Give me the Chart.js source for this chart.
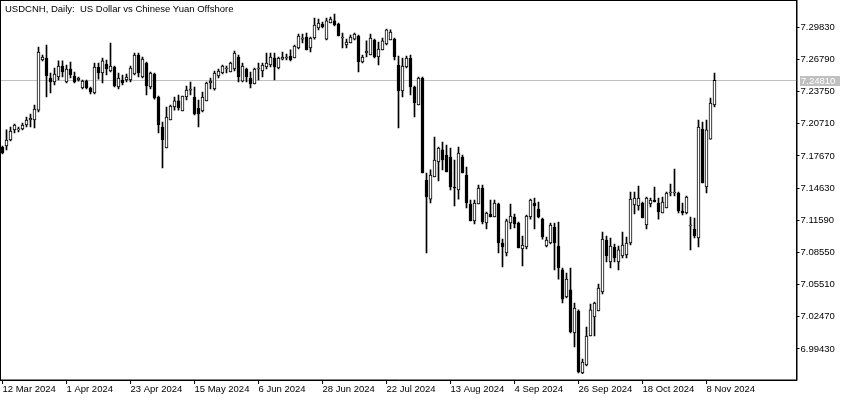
<!DOCTYPE html>
<html>
<head>
<meta charset="utf-8">
<script src="https://cdn.jsdelivr.net/npm/chart.js@4/dist/chart.umd.min.js"></script>
<style>
  html, body { margin: 0; padding: 0; background: #fff; }
  #wrap { width: 850px; height: 400px; }
</style>
</head>
<body>
<div id="wrap"><canvas id="chart" width="850" height="400"></canvas></div>
<script>
// USDCNH daily candles, 8 Mar 2024 .. 12 Nov 2024
const opens = [
  7.1852,7.1861,7.1918,7.2013,7.2013,7.2022,7.2060,7.2107,7.2107,7.2201,
  7.2674,7.2693,7.2504,7.2466,7.2513,7.2617,7.2466,7.2589,7.2523,7.2485,
  7.2409,7.2475,7.2409,7.2362,7.2608,7.2551,7.2636,7.2570,7.2608,7.2419,
  7.2485,7.2485,7.2485,7.2542,7.2721,7.2513,7.2646,7.2419,7.2542,7.2324,
  7.2041,7.1842,7.2107,7.2230,7.2287,7.2192,7.2324,7.2390,7.2324,7.2220,
  7.2192,7.2287,7.2457,7.2400,7.2523,7.2551,7.2589,7.2561,7.2589,7.2702,
  7.2475,7.2589,7.2504,7.2447,7.2589,7.2570,7.2608,7.2627,7.2693,7.2598,
  7.2683,7.2693,7.2712,7.2693,7.2787,7.2872,7.2891,7.2787,7.2882,7.2976,
  7.3014,7.2872,7.3024,7.3043,7.3014,7.2882,7.2816,7.2835,7.2872,7.2901,
  7.2655,7.2740,7.2721,7.2863,7.2702,7.2769,7.2825,7.2863,7.2872,7.2627,
  7.2381,7.2608,7.2693,7.2419,7.2249,7.2504,7.1540,7.1360,7.1568,7.1710,
  7.1824,7.1776,7.1757,7.1474,7.1446,7.1757,7.1587,7.1313,7.1153,7.1313,
  7.1464,7.1134,7.1219,7.1190,7.1313,7.0945,7.0850,7.1134,7.1190,7.1134,
  7.0888,7.0907,7.1190,7.1323,7.1266,7.1171,7.0916,7.0945,7.1096,7.0916,
  7.0690,7.0434,7.0501,7.0094,7.0302,6.9716,6.9792,7.0066,7.0245,7.0302,
  7.0482,7.0973,7.0765,7.0907,7.0765,7.0822,7.0831,7.0945,7.1304,7.1294,
  7.1323,7.1115,7.1313,7.1351,7.1323,7.1228,7.1275,7.1417,7.1417,7.1417,
  7.1247,7.1228,7.1105,7.1077,7.0992,7.2022,7.1474,7.1927,7.2249
];
const highs = [
  7.1861,7.2013,7.2041,7.2069,7.2041,7.2079,7.2135,7.2164,7.2249,7.2797,
  7.2721,7.2816,7.2551,7.2598,7.2665,7.2665,7.2627,7.2655,7.2561,7.2513,
  7.2485,7.2485,7.2419,7.2646,7.2646,7.2693,7.2674,7.2835,7.2617,7.2551,
  7.2532,7.2542,7.2617,7.2740,7.2740,7.2702,7.2655,7.2561,7.2551,7.2334,
  7.2088,7.2230,7.2249,7.2324,7.2343,7.2334,7.2428,7.2466,7.2419,7.2296,
  7.2372,7.2466,7.2504,7.2570,7.2589,7.2627,7.2617,7.2655,7.2759,7.2721,
  7.2646,7.2598,7.2561,7.2598,7.2646,7.2646,7.2740,7.2740,7.2740,7.2702,
  7.2750,7.2731,7.2769,7.2816,7.2920,7.2920,7.2929,7.2891,7.3071,7.3061,
  7.3033,7.3071,7.3080,7.3109,7.3024,7.2929,7.2872,7.2910,7.2929,7.2910,
  7.2721,7.2854,7.2920,7.2872,7.2844,7.2882,7.2967,7.2958,7.2882,7.2712,
  7.2693,7.2712,7.2721,7.2428,7.2513,7.2513,7.1606,7.1635,7.1946,7.1852,
  7.1899,7.1871,7.1842,7.1729,7.1852,7.1776,7.1663,7.1351,7.1351,7.1493,
  7.1493,7.1238,7.1351,7.1351,7.1323,7.0982,7.1171,7.1313,7.1219,7.1143,
  7.1011,7.1209,7.1360,7.1370,7.1332,7.1181,7.1001,7.1134,7.1134,7.1143,
  7.0708,7.0661,7.0708,7.0378,7.0312,6.9848,7.0151,7.0368,7.0387,7.0557,
  7.1049,7.1011,7.0992,7.0935,7.0916,7.1049,7.1001,7.1427,7.1427,7.1483,
  7.1332,7.1379,7.1370,7.1474,7.1370,7.1379,7.1427,7.1502,7.1644,7.1427,
  7.1323,7.1389,7.1190,7.1181,7.2107,7.2088,7.2107,7.2315,7.2551
];
const lows = [
  7.1786,7.1824,7.1909,7.1984,7.1994,7.2013,7.2041,7.2041,7.2031,7.2183,
  7.2665,7.2324,7.2362,7.2438,7.2485,7.2513,7.2457,7.2504,7.2457,7.2475,
  7.2400,7.2400,7.2353,7.2353,7.2494,7.2457,7.2532,7.2561,7.2419,7.2400,
  7.2438,7.2466,7.2466,7.2532,7.2513,7.2504,7.2343,7.2400,7.2305,7.1984,
  7.1653,7.1842,7.2107,7.2201,7.2201,7.2192,7.2296,7.2343,7.2154,7.2041,
  7.2183,7.2287,7.2400,7.2390,7.2504,7.2542,7.2551,7.2561,7.2570,7.2466,
  7.2466,7.2466,7.2409,7.2447,7.2485,7.2513,7.2589,7.2608,7.2485,7.2589,
  7.2674,7.2674,7.2665,7.2693,7.2778,7.2835,7.2769,7.2750,7.2872,7.2958,
  7.2976,7.2863,7.3024,7.2995,7.2901,7.2787,7.2787,7.2835,7.2863,7.2561,
  7.2646,7.2702,7.2721,7.2693,7.2627,7.2769,7.2816,7.2863,7.2674,7.2031,
  7.2324,7.2598,7.2343,7.2135,7.2249,7.1606,7.0850,7.1323,7.1568,7.1531,
  7.1635,7.1616,7.1446,7.1294,7.1360,7.1606,7.1275,7.1153,7.1124,7.1313,
  7.1124,7.1077,7.1190,7.1190,7.0850,7.0718,7.0822,7.1077,7.1086,7.0897,
  7.0727,7.0888,7.1171,7.1077,7.1181,7.0982,7.0907,7.0935,7.0690,7.0604,
  7.0378,7.0425,7.0094,6.9962,6.9716,6.9710,6.9782,7.0066,7.0066,7.0302,
  7.0463,7.0765,7.0708,7.0765,7.0690,7.0803,7.0803,7.0926,7.1219,7.1256,
  7.1181,7.1077,7.1285,7.1332,7.1171,7.1228,7.1275,7.1389,7.1389,7.1228,
  7.1209,7.1219,7.0879,7.0992,7.0907,7.1512,7.1417,7.1927,7.2230
];
const closes = [
  7.1795,7.1918,7.2003,7.2060,7.2022,7.2060,7.2107,7.2126,7.2211,7.2750,
  7.2702,7.2523,7.2466,7.2542,7.2617,7.2561,7.2589,7.2532,7.2466,7.2504,
  7.2475,7.2409,7.2372,7.2608,7.2551,7.2665,7.2589,7.2617,7.2428,7.2504,
  7.2457,7.2513,7.2598,7.2721,7.2551,7.2683,7.2428,7.2551,7.2315,7.2060,
  7.1918,7.2135,7.2239,7.2287,7.2220,7.2334,7.2390,7.2400,7.2164,7.2164,
  7.2324,7.2457,7.2475,7.2551,7.2570,7.2617,7.2592,7.2646,7.2740,7.2513,
  7.2617,7.2513,7.2447,7.2589,7.2592,7.2627,7.2646,7.2702,7.2608,7.2693,
  7.2702,7.2696,7.2674,7.2806,7.2901,7.2882,7.2769,7.2882,7.3005,7.3024,
  7.2986,7.3043,7.3061,7.3005,7.2901,7.2885,7.2844,7.2891,7.2920,7.2655,
  7.2702,7.2759,7.2882,7.2702,7.2778,7.2854,7.2958,7.2939,7.2702,7.2381,
  7.2617,7.2693,7.2419,7.2268,7.2504,7.1606,7.1379,7.1587,7.1729,7.1842,
  7.1729,7.1616,7.1474,7.1464,7.1795,7.1606,7.1323,7.1153,7.1323,7.1464,
  7.1143,7.1228,7.1190,7.1323,7.0945,7.0907,7.1153,7.1200,7.1124,7.0897,
  7.0926,7.1200,7.1351,7.1294,7.1190,7.1001,7.0973,7.1115,7.0945,7.0708,
  7.0415,7.0604,7.0104,7.0330,6.9726,6.9820,7.0066,7.0312,7.0378,7.0519,
  7.0982,7.0822,7.0916,7.0803,7.0879,7.0926,7.0945,7.1360,7.1370,7.1370,
  7.1181,7.1370,7.1351,7.1332,7.1238,7.1332,7.1417,7.1420,7.1420,7.1247,
  7.1228,7.1379,7.1108,7.1011,7.2041,7.1512,7.2013,7.2268,7.2481
];

const tickLabels = ['12 Mar 2024', '1 Apr 2024', '23 Apr 2024', '15 May 2024', '6 Jun 2024', '28 Jun 2024',
                    '22 Jul 2024', '13 Aug 2024', '4 Sep 2024', '26 Sep 2024', '18 Oct 2024', '8 Nov 2024'];
const yTicks = [7.29830, 7.26790, 7.23750, 7.20710, 7.17670, 7.14630, 7.11590, 7.08550, 7.05510, 7.02470, 6.99430];
const lastPrice = 7.24810;
const title = 'USDCNH, Daily:  US Dollar vs Chinese Yuan Offshore';

const BARS_PER_LABEL = 16;
const SLOTS = 199; // visible bar slots incl. empty space on the right
const FONT = { family: 'Liberation Sans', size: 9.5 };

// weekday dates as categories
const labels = [];
let d = new Date(Date.UTC(2024, 2, 8));
while (labels.length < SLOTS) {
  const wd = d.getUTCDay();
  if (wd !== 0 && wd !== 6) labels.push(d.toISOString().slice(0, 10));
  d.setUTCDate(d.getUTCDate() + 1);
}

const bodies = opens.map((o, i) => [o, closes[i]]);
const wicks = lows.map((l, i) => [l, highs[i]]);
const bodyColors = opens.map((o, i) => closes[i] >= o ? '#ffffff' : '#000000');

// frame, title, price line
const mtDecor = {
  id: 'mtDecor',
  beforeDatasetsDraw(chart) {
    const { ctx, chartArea: a, scales } = chart;
    const y = Math.round(scales.y.getPixelForValue(lastPrice)) + 0.5;
    ctx.save();
    ctx.strokeStyle = '#c0c0c0';
    ctx.lineWidth = 1;
    ctx.beginPath();
    ctx.moveTo(a.left, y);
    ctx.lineTo(a.right, y);
    ctx.stroke();
    ctx.restore();
  },
  afterDraw(chart) {
    const { ctx, chartArea: a, scales } = chart;
    ctx.save();
    ctx.strokeStyle = '#000';
    ctx.lineWidth = 1;
    ctx.strokeRect(0.5, 0.5, Math.round(a.right) - 0.5, Math.round(a.bottom) - 0.5);
    ctx.font = FONT.size + 'px ' + FONT.family;
    ctx.fillStyle = '#000';
    ctx.textBaseline = 'alphabetic';
    ctx.fillText(title, 5, 12);
    // last price box
    const y = Math.round(scales.y.getPixelForValue(lastPrice));
    ctx.fillStyle = '#c0c0c0';
    ctx.fillRect(Math.round(a.right) + 3, y - 4, 40, 10);
    ctx.fillStyle = '#fff';
    ctx.textBaseline = 'middle';
    ctx.fillText(lastPrice.toFixed(5), Math.round(a.right) + 4, y + 1);
    ctx.restore();
  }
};

new Chart(document.getElementById('chart'), {
  type: 'bar',
  data: {
    labels: labels,
    datasets: [
      {
        label: 'body',
        data: bodies,
        backgroundColor: bodyColors,
        borderColor: '#000',
        borderWidth: 1,
        borderSkipped: false,
        barThickness: 3,
        minBarLength: 1,
        grouped: false
      },
      {
        label: 'wick',
        data: wicks,
        backgroundColor: '#000',
        borderWidth: 0,
        barThickness: 1,
        grouped: false
      }
    ]
  },
  options: {
    responsive: false,
    animation: false,
    devicePixelRatio: 1,
    layout: { padding: { left: 0.5, top: 0, right: 0, bottom: 0 } },
    plugins: { legend: { display: false }, tooltip: { enabled: false }, title: { display: false } },
    scales: {
      x: {
        type: 'category',
        offset: true,
        grid: { display: true, offset: false, drawOnChartArea: false, drawTicks: true, tickLength: 4, color: '#000' },
        border: { display: true, color: '#000' },
        ticks: {
          autoSkip: false, maxRotation: 0, minRotation: 0, align: 'start', padding: 0,
          color: '#000', font: FONT,
          callback: (v) => tickLabels[v / BARS_PER_LABEL]
        },
        afterBuildTicks: (s) => {
          s.ticks = s.ticks.filter(t => t.value % BARS_PER_LABEL === 0 && t.value / BARS_PER_LABEL < tickLabels.length);
        },
        afterFit: (s) => { s.height = 20; s.paddingLeft = 0; s.paddingRight = 0; }
      },
      y: {
        position: 'right',
        min: 6.9650,
        max: 7.3241,
        grid: { display: true, drawOnChartArea: false, drawTicks: true, tickLength: 3, color: '#000' },
        border: { display: true, color: '#000' },
        ticks: { padding: 1, color: '#000', font: FONT, callback: (v) => Number(v).toFixed(5) },
        afterBuildTicks: (s) => { s.ticks = yTicks.map(v => ({ value: v })); },
        afterFit: (s) => { s.width = 53.5; s.paddingTop = 0; s.paddingBottom = 0; }
      }
    }
  },
  plugins: [mtDecor]
});
</script>
</body>
</html>
